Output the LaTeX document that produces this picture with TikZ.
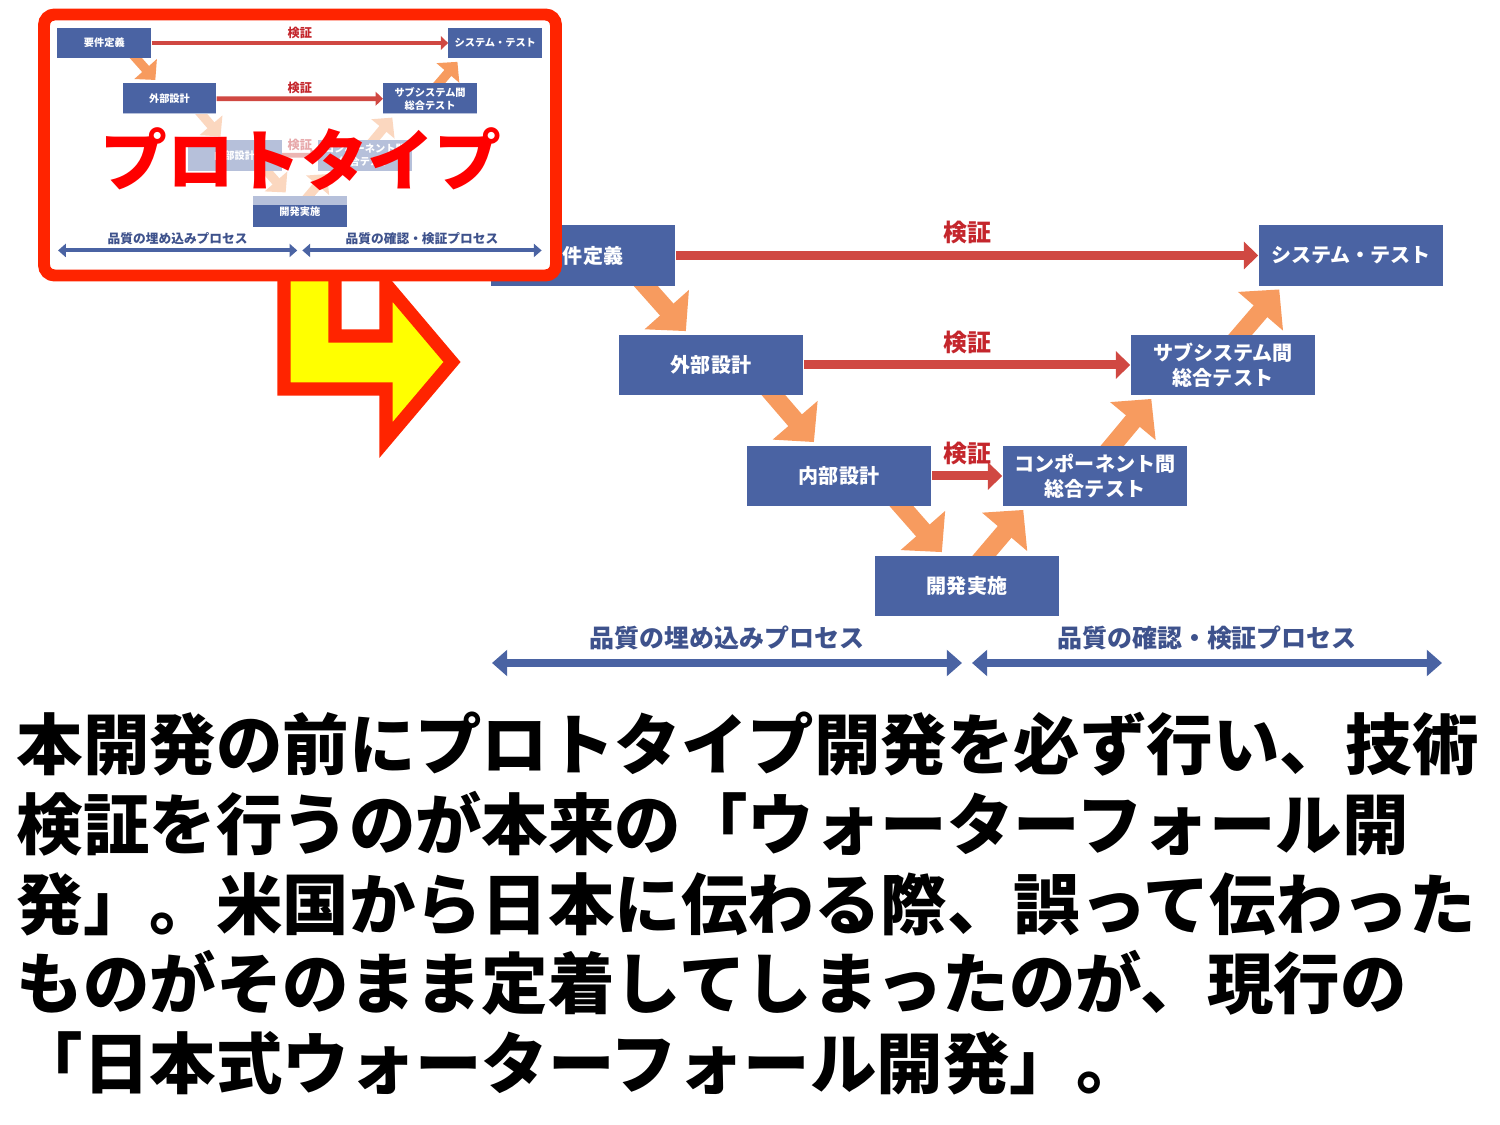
\documentclass[tikz,border=0pt]{standalone}
\usepackage{fontspec}
\newfontfamily\jpbold{Noto Sans CJK JP}[UprightFont=* Bold]
\newfontfamily\jpblack{Noto Sans CJK JP}[UprightFont=* Black]
\usetikzlibrary{arrows.meta}
\definecolor{vblue}{RGB}{74,99,163}
\definecolor{vred}{RGB}{208,72,66}
\definecolor{vredtext}{RGB}{196,38,44}
\definecolor{vorange}{RGB}{247,155,95}
\definecolor{vnavy}{RGB}{62,82,140}
\definecolor{framered}{RGB}{255,36,0}
\definecolor{arrowyellow}{RGB}{255,255,0}
\pgfdeclarelayer{back}
\pgfdeclarelayer{insetback}
\pgfdeclarelayer{inset}
\pgfsetlayers{back,main,insetback,inset}

% V model: #1 name prefix, #2 layer of the arrows, #3 layer of the boxes
\newcommand\vmodel[3]{%
  \begin{pgfonlayer}{#3}
  \node[stage] (#1req) at (93,29.5) {要件定義};
  \node[stage] (#1ext) at (221,139) {外部設計};
  \node[stage] (#1int) at (349,250) {内部設計};
  \node[stage] (#1dev) at (477,360) {開発実施};
  \node[stage] (#1comp) at (605,250) {コンポーネント間\\総合テスト};
  \node[stage] (#1sub) at (733,139) {サブシステム間\\総合テスト};
  \node[stage] (#1sys) at (861,29.5) {システム・テスト};
  \coordinate (#1la) at (2,437);
  \coordinate (#1lb) at (472,437);
  \coordinate (#1ra) at (482,437);
  \coordinate (#1rb) at (952,437);
  \end{pgfonlayer}
  \begin{pgfonlayer}{#2}
  \draw[flow] (#1req.-26) -- (#1ext.126);
  \draw[flow] (#1ext.-26) -- (#1int.126);
  \draw[flow] (#1int.-26) -- (#1dev.126);
  \draw[flow] (#1dev.60) -- (#1comp.204);
  \draw[flow] (#1comp.60) -- (#1sub.204);
  \draw[flow] (#1sub.60) -- (#1sys.204);
  \draw[check] (#1req) -- node[checklabel]{検証} (#1sys);
  \draw[check] (#1ext) -- node[checklabel]{検証} (#1sub);
  \draw[check] (#1int) -- node[checklabel]{検証} (#1comp);
  \draw[phase] (#1la) -- node[phaselabel]{品質の埋め込みプロセス} (#1lb);
  \draw[phase] (#1ra) -- node[phaselabel]{品質の確認・検証プロセス} (#1rb);
  \end{pgfonlayer}
}

\begin{document}
\begin{tikzpicture}[x=0.01cm,y=-0.01cm]
\tikzset{
  stage/.style={fill=vblue,text=white,minimum width=1.84cm,minimum height=0.6cm,inner sep=0pt,align=center,font=\jpblack\fontsize{5.7pt}{7.1pt}\selectfont},
  flow/.style={draw=vorange,line width=\vs*5.12pt,shorten <=-3pt,shorten >=1.2pt,-{Triangle[length=0pt 1.6,width=0pt 3.2]}},
  check/.style={draw=vred,line width=\vs*2.56pt,-{Triangle[length=0pt 1.6,width=0pt 3]}},
  checklabel/.style={above=2pt,inner sep=0pt,text=vredtext,font=\jpblack\fontsize{6.8pt}{8pt}\selectfont},
  phase/.style={draw=vblue,line width=\vs*2.28pt,{Triangle[length=0pt 1.9,width=0pt 3.2]}-{Triangle[length=0pt 1.9,width=0pt 3.2]}},
  phaselabel/.style={above=2.6pt,inner sep=0pt,text=vnavy,font=\jpblack\fontsize{7.1pt}{8pt}\selectfont},
  insetframe/.style={draw=framered,fill=white,line width=3.4pt,rounded corners=3pt},
  proto/.style={fill=white,fill opacity=0.6,text opacity=1,text=red,minimum width=4.9cm,minimum height=0.91cm,inner sep=0pt,font=\jpblack\fontsize{19pt}{20pt}\selectfont},
  bendarrow/.style={draw=framered,fill=arrowyellow,line width=3.7pt,line join=miter},
  para/.style={anchor=base west,inner sep=0pt,font=\jpblack\fontsize{18.9pt}{22pt}\selectfont}
}
\useasboundingbox (0,0) rectangle (1500,1125);

% full size model
\begin{scope}[shift={(490,226)}]
\def\vs{1}
\vmodel{m-}{back}{main}
\end{scope}

\draw[bendarrow] (284,262) -- (284,389) -- (386,389) -- (386,440) -- (452,362) -- (386,284) -- (386,336) -- (335,336) -- (335,262) -- cycle;

% prototype inset
\begin{pgfonlayer}{insetback}
\draw[insetframe] (44,14.5) rectangle (556,275.5);
\end{pgfonlayer}
\begin{scope}[shift={(57,28)},scale=0.509,transform shape]
\def\vs{0.509}
\vmodel{t-}{insetback}{inset}
\end{scope}
\begin{pgfonlayer}{inset}
\node[proto] (proto) at (301,159) {プロトタイプ};
\end{pgfonlayer}

\foreach \txt [count=\i] in {{本開発の前にプロトタイプ開発を必ず行い、技術},{検証を行うのが本来の「ウォーターフォール開},{発」。米国から日本に伝わる際、誤って伝わった},{ものがそのまま定着してしまったのが、現行の},{「日本式ウォーターフォール開発」。}}
  \node[para] (line\i) at (16,{770+79.5*(\i-1)}) {\txt};
\end{tikzpicture}
\end{document}
